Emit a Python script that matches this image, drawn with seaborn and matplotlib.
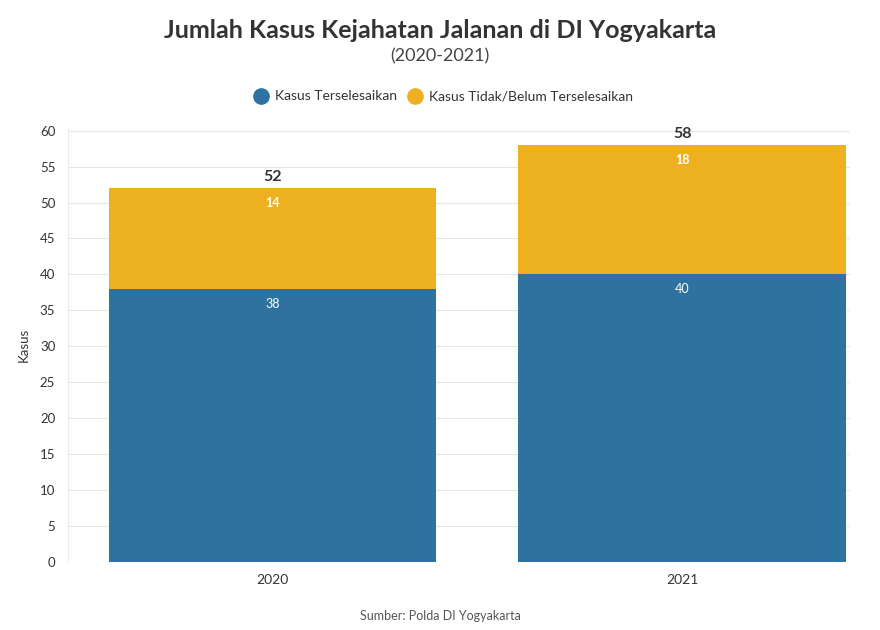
import matplotlib
matplotlib.use("Agg")
import matplotlib.pyplot as plt
from matplotlib.lines import Line2D
import seaborn as sns
import pandas as pd

tahun = ["2020", "2021"]
selesai = [38, 40]
belum_selesai = [14, 18]
seri = ["Kasus Terselesaikan", "Kasus Tidak/Belum Terselesaikan"]

BIRU = "#2E73A0"
KUNING = "#EDB120"


def main():
    total = [a + b for a, b in zip(selesai, belum_selesai)]
    df = pd.DataFrame({"tahun": tahun, "selesai": selesai,
                       "belum": belum_selesai, "total": total})

    sns.set_theme(style="white")
    plt.rcParams["font.family"] = ["Lato", "DejaVu Sans"]

    fig = plt.figure(figsize=(8.8, 6.3), dpi=100)
    ax = fig.add_axes([0.077, 0.108, 0.889, 0.688])

    # stacked: total in kuning, lalu selesai di atasnya dalam biru
    sns.barplot(data=df, x="tahun", y="total", color=KUNING, width=0.8,
                saturation=1, ax=ax)
    sns.barplot(data=df, x="tahun", y="selesai", color=BIRU, width=0.8,
                saturation=1, ax=ax)

    for bar in ax.patches:
        bar.set_edgecolor("none")

    c_total, c_selesai = ax.containers[0], ax.containers[1]
    ax.bar_label(c_total, labels=[str(v) for v in belum_selesai], padding=-15,
                 color="white", fontsize=9, fontweight="bold")
    ax.bar_label(c_total, labels=[str(v) for v in total], padding=3,
                 color="#333333", fontsize=11.5, fontweight="bold")
    ax.bar_label(c_selesai, labels=[str(v) for v in selesai], padding=-15,
                 color="white", fontsize=9)

    ax.set_ylim(0, 60.3)
    ax.set_xlim(-0.5, 1.41)
    ax.set_yticks(range(0, 61, 5))
    ax.yaxis.grid(True, color="#E6E6E6", linewidth=0.8)
    ax.set_axisbelow(True)
    for s in ["top", "right", "bottom"]:
        ax.spines[s].set_visible(False)
    ax.spines["left"].set_color("#EBEBEB")
    ax.spines["left"].set_linewidth(0.8)
    ax.tick_params(axis="y", length=6, width=0.8, color="#E6E6E6",
                   labelsize=9.5, labelcolor="#333333", pad=3)
    ax.tick_params(axis="x", length=0, labelsize=10, labelcolor="#333333",
                   pad=9)
    ax.set_xlabel("")
    ax.set_ylabel("Kasus", fontsize=9.5, color="#333333", labelpad=7)

    fig.text(0.5, 0.952, "Jumlah Kasus Kejahatan Jalanan di DI Yogyakarta",
             ha="center", va="center", fontsize=18, fontweight="bold",
             color="#333333")
    fig.text(0.5, 0.911, "(2020-2021)", ha="center", va="center",
             fontsize=13, color="#444444")

    handles = [Line2D([], [], marker="o", linestyle="", markersize=11,
                      markerfacecolor=c, markeredgecolor=c)
               for c in [BIRU, KUNING]]
    fig.legend(handles, seri, loc="center", bbox_to_anchor=(0.5, 0.847),
               ncol=2, frameon=False, fontsize=10, handletextpad=0.0,
               columnspacing=0.3, labelcolor="#333333")

    fig.text(0.5, 0.012, "Sumber: Polda DI Yogyakarta", ha="center",
             va="bottom", fontsize=9, color="#555555")

    fig.savefig("out.png", dpi=100)


if __name__ == "__main__":
    main()
